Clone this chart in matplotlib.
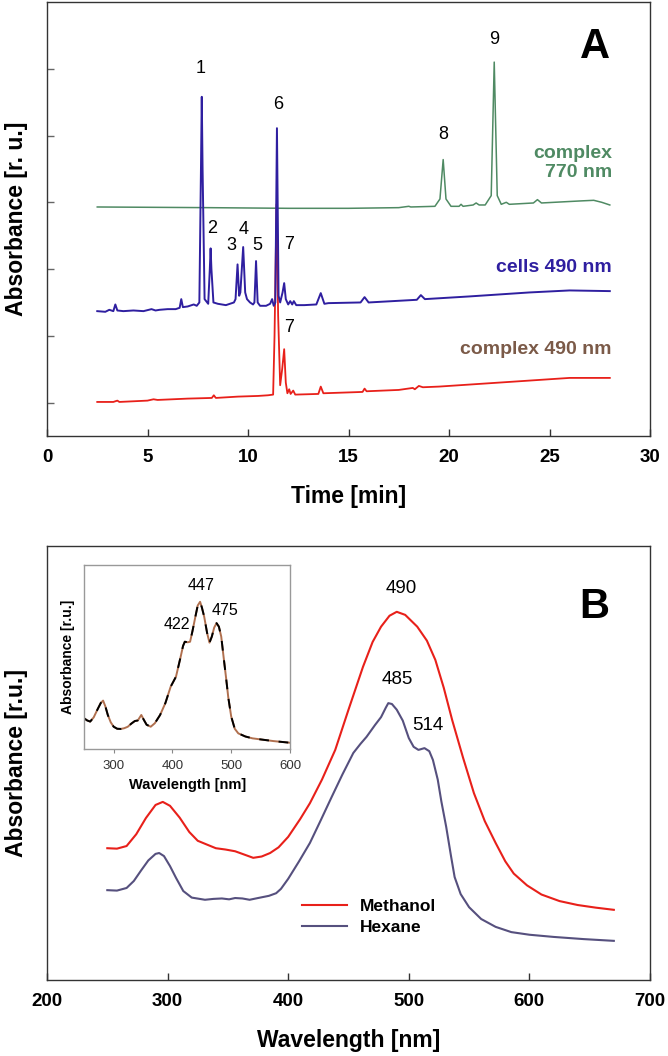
"""
Chromatogram (A) and absorption spectra (B) recreated with matplotlib.
"""
import matplotlib
matplotlib.use('Agg')
import matplotlib.pyplot as plt

plt.rcParams['font.family'] = ['Liberation Sans', 'DejaVu Sans']

# ---------------- panel A: HPLC traces (time [min], absorbance) ----------------
green_t = [2.5, 8.0, 12.0, 15.0, 17.5, 18.0, 18.1, 19.3, 19.55, 19.71, 19.85, 20.1, 20.5, 20.6,
           20.7, 21.2, 21.35, 21.5, 21.8, 22.1, 22.25, 22.4, 22.6, 22.85, 23.0, 24.2, 24.4, 24.6,
           26.5, 27.2, 27.6, 28.0]
green_y = [3.43, 3.42, 3.41, 3.41, 3.42, 3.44, 3.43, 3.44, 3.55, 4.14, 3.55, 3.44, 3.44, 3.47,
           3.44, 3.46, 3.49, 3.46, 3.46, 3.60, 5.60, 3.60, 3.47, 3.50, 3.47, 3.49, 3.54, 3.49,
           3.52, 3.53, 3.50, 3.46]

blue_t = [2.5, 2.9, 3.1, 3.3, 3.4, 3.5, 3.8, 4.3, 4.8, 5.2, 5.4, 5.6, 6.0, 6.4, 6.6, 6.68, 6.76,
          7.0, 7.3, 7.45, 7.58, 7.66, 7.70, 7.74, 7.84, 8.02, 8.10, 8.14, 8.18, 8.28, 8.5, 8.9,
          9.1, 9.3, 9.38, 9.48, 9.56, 9.62, 9.76, 9.86, 9.95, 10.1, 10.25, 10.32, 10.40, 10.48,
          10.6, 10.9, 11.1, 11.2, 11.28, 11.36, 11.44, 11.52, 11.6, 11.72, 11.8, 11.88, 12.0,
          12.1, 12.2, 12.28, 12.4, 12.8, 13.4, 13.62, 13.8, 14.0, 15.6, 15.8, 16.0, 18.4, 18.6,
          18.8, 21.0, 24.0, 26.0, 28.0]
blue_y = [1.87, 1.86, 1.89, 1.87, 1.97, 1.88, 1.87, 1.88, 1.87, 1.90, 1.88, 1.89, 1.90, 1.90,
          1.92, 2.05, 1.93, 1.94, 1.97, 1.95, 2.00, 4.00, 5.08, 4.00, 2.05, 1.98, 2.50, 2.81,
          2.50, 2.00, 1.98, 1.96, 1.98, 2.00, 2.05, 2.57, 2.10, 2.15, 2.83, 2.15, 2.05, 2.00,
          1.97, 2.00, 2.62, 2.00, 1.95, 1.95, 1.98, 2.05, 1.95, 2.00, 4.61, 2.10, 2.00, 2.15,
          2.29, 2.05, 1.97, 2.02, 1.97, 2.02, 1.96, 1.96, 1.97, 2.14, 1.98, 1.99, 2.00, 2.08,
          2.00, 2.04, 2.11, 2.05, 2.09, 2.15, 2.18, 2.17]

red_t = [2.5, 3.3, 3.5, 3.6, 5.0, 5.3, 5.5, 7.0, 8.2, 8.3, 8.4, 9.5, 10.5, 11.0, 11.25, 11.32,
         11.42, 11.5, 11.6, 11.7, 11.8, 11.88, 11.96, 12.05, 12.12, 12.25, 12.35, 13.5, 13.62,
         13.75, 15.7, 15.8, 15.9, 17.5, 18.2, 18.3, 18.5, 18.7, 19.5, 22.0, 26.0, 28.0]
red_y = [0.51, 0.51, 0.53, 0.51, 0.53, 0.55, 0.54, 0.56, 0.57, 0.61, 0.57, 0.59, 0.60, 0.61,
         0.62, 1.50, 3.47, 1.80, 0.76, 1.00, 1.30, 0.80, 0.64, 0.70, 0.63, 0.68, 0.62, 0.63,
         0.74, 0.64, 0.66, 0.71, 0.67, 0.69, 0.72, 0.70, 0.75, 0.73, 0.74, 0.79, 0.87, 0.87]

peak_names = ['1', '2', '3', '4', '5', '6', '7', '7', '8', '9']
peak_t = [7.66, 8.2, 9.17, 9.8, 10.45, 11.49, 12.02, 12.05, 19.7, 22.27]
peak_y = [5.51, 3.11, 2.85, 3.10, 2.85, 4.97, 2.87, 1.62, 4.51, 5.94]

# ---------------- panel B: absorption spectra (wavelength [nm], absorbance) ----------------
meoh_wl = [250, 258, 266, 274, 282, 290, 296, 302, 310, 318, 325, 332, 340, 348, 356, 364,
           371, 378, 385, 392, 400, 410, 418, 428, 439, 450, 462, 470, 477, 484, 490, 497,
           507, 515, 522, 529, 536, 545, 554, 563, 572, 580, 587, 598, 610, 625, 640, 655, 670]
meoh_abs = [0.313, 0.312, 0.318, 0.345, 0.382, 0.412, 0.419, 0.410, 0.383, 0.350, 0.330,
            0.322, 0.313, 0.310, 0.306, 0.298, 0.291, 0.294, 0.302, 0.315, 0.339, 0.380,
            0.416, 0.470, 0.538, 0.630, 0.728, 0.785, 0.820, 0.845, 0.854, 0.847, 0.820,
            0.788, 0.744, 0.680, 0.606, 0.520, 0.439, 0.375, 0.325, 0.283, 0.255, 0.228,
            0.207, 0.192, 0.183, 0.177, 0.172]

hex_wl = [250, 258, 266, 272, 278, 284, 290, 293, 297, 302, 307, 313, 320, 331, 338, 345,
          351, 356, 362, 368, 375, 384, 390, 394, 400, 409, 418, 427, 436, 445, 454, 460,
          465, 472, 477, 481, 483, 486, 490, 495, 500, 504, 508, 513, 517, 520, 524, 527,
          531, 535, 538, 543, 550, 560, 572, 585, 600, 620, 645, 670]
hex_abs = [0.217, 0.216, 0.222, 0.238, 0.262, 0.285, 0.300, 0.302, 0.295, 0.272, 0.245,
           0.215, 0.200, 0.195, 0.197, 0.198, 0.196, 0.199, 0.198, 0.195, 0.199, 0.204,
           0.210, 0.220, 0.243, 0.283, 0.325, 0.377, 0.430, 0.482, 0.531, 0.552, 0.568,
           0.595, 0.613, 0.635, 0.645, 0.643, 0.630, 0.605, 0.565, 0.545, 0.538, 0.542,
           0.535, 0.515, 0.470, 0.420, 0.362, 0.295, 0.247, 0.208, 0.178, 0.151, 0.133,
           0.121, 0.115, 0.110, 0.105, 0.101]

# inset spectrum (two overlapping recordings)
ins_wl = [250, 255, 260, 266, 272, 278, 282, 286, 290, 295, 300, 306, 312, 318, 324, 330,
          336, 341, 347, 351, 356, 363, 370, 379, 388, 397, 406, 414, 418, 421, 426, 430,
          434, 439, 443, 447, 450, 454, 459, 463, 467, 471, 475, 479, 483, 487, 491, 495,
          500, 506, 512, 524, 536, 555, 572, 600]
ins_abs = [0.166, 0.155, 0.149, 0.172, 0.212, 0.250, 0.263, 0.230, 0.185, 0.145, 0.121,
           0.110, 0.109, 0.113, 0.121, 0.138, 0.152, 0.155, 0.185, 0.160, 0.132, 0.121,
           0.140, 0.185, 0.250, 0.339, 0.393, 0.502, 0.560, 0.583, 0.580, 0.583, 0.640,
           0.719, 0.780, 0.800, 0.770, 0.719, 0.630, 0.578, 0.611, 0.660, 0.684, 0.665,
           0.611, 0.500, 0.393, 0.280, 0.176, 0.110, 0.085, 0.068, 0.058, 0.050, 0.043,
           0.034]

GREEN, BLUE, RED = '#4f8a63', '#2f1fa0', '#e8201a'
HEX_C, BROWN_T, INS_BROWN = '#56507e', '#7b5a48', '#b0704f'
SPINE = '#333333'

fig = plt.figure(figsize=(6.68, 10.56), dpi=100)
W, H = 668.0, 1056.0

# ---------- A ----------
axA = fig.add_axes([47 / W, 1 - 436 / H, 603 / W, 434 / H])
axA.plot(green_t, green_y, color=GREEN, lw=1.1)
axA.plot(red_t, red_y, color=RED, lw=1.3)
axA.plot(blue_t, blue_y, color=BLUE, lw=1.4)
axA.set_xlim(0, 30)
axA.set_ylim(0, 6.5)
axA.set_xticks([0, 5, 10, 15, 20, 25, 30])
axA.set_yticks([0.5, 1.5, 2.5, 3.5, 4.5, 5.5])
axA.tick_params(axis='x', direction='in', length=5, width=1, color=SPINE, pad=9,
                labelsize=13.5)
axA.tick_params(axis='y', direction='in', length=5, width=1, color='#666666', labelleft=False)
for lab in axA.get_xticklabels():
    lab.set_fontweight('bold')
for s in axA.spines.values():
    s.set_color(SPINE); s.set_linewidth(1.0)
axA.set_xlabel('Time [min]', fontsize=16.5, fontweight='bold', labelpad=14)
axA.set_ylabel('Absorbance [r. u.]', fontsize=16.5, fontweight='bold', labelpad=14)

for n, t, y in zip(peak_names, peak_t, peak_y):
    axA.text(t, y, n, fontsize=13, ha='center', va='center')
axA.text(28.1, 4.09, 'complex\n770 nm', color=GREEN, fontsize=14, fontweight='bold',
         ha='right', va='center', multialignment='right', linespacing=1.1)
axA.text(28.1, 2.53, 'cells 490 nm', color=BLUE, fontsize=14, fontweight='bold',
         ha='right', va='center')
axA.text(28.1, 1.29, 'complex 490 nm', color=BROWN_T, fontsize=14, fontweight='bold',
         ha='right', va='center')
axA.text(27.24, 5.82, 'A', fontsize=30, fontweight='bold', ha='center', va='center')

# ---------- B ----------
axB = fig.add_axes([47 / W, 1 - 980 / H, 603 / W, 434 / H])
axB.plot(meoh_wl, meoh_abs, color=RED, lw=1.5, label='Methanol')
axB.plot(hex_wl, hex_abs, color=HEX_C, lw=1.5, label='Hexane')
axB.set_xlim(200, 700)
axB.set_ylim(0.0114, 1.0046)
axB.set_xticks([200, 300, 400, 500, 600, 700])
axB.set_yticks([])
axB.tick_params(axis='x', direction='in', length=5, width=1, color=SPINE, pad=9,
                labelsize=13.5)
for lab in axB.get_xticklabels():
    lab.set_fontweight('bold')
for s in axB.spines.values():
    s.set_color(SPINE); s.set_linewidth(1.0)
axB.set_xlabel('Wavelength [nm]', fontsize=16.5, fontweight='bold', labelpad=14)
axB.set_ylabel('Absorbance [r.u.]', fontsize=16.5, fontweight='bold', labelpad=14)

axB.text(493.5, 0.908, '490', fontsize=13.5, ha='center', va='center')
axB.text(490.6, 0.698, '485', fontsize=13.5, ha='center', va='center')
axB.text(516, 0.593, '514', fontsize=13.5, ha='center', va='center')
axB.text(653.6, 0.865, 'B', fontsize=30, fontweight='bold', ha='center', va='center')

leg = axB.legend(loc='upper left', bbox_to_anchor=(0.411, 0.203), frameon=False,
                 prop={'size': 12.5, 'weight': 'bold'}, handlelength=2.6,
                 handletextpad=0.75, labelspacing=0.35, borderaxespad=0)

# ---------- inset ----------
axI = fig.add_axes([84.3 / W, 1 - 749 / H, 205.7 / W, 184 / H])
axI.plot(ins_wl, ins_abs, color=INS_BROWN, lw=1.4)
axI.plot(ins_wl, ins_abs, color='black', lw=1.4, dashes=(5, 5))
axI.set_xlim(250, 600)
axI.set_ylim(0, 1)
axI.set_xticks([300, 400, 500, 600])
axI.set_yticks([])
axI.tick_params(axis='x', direction='out', length=3, width=0.8, color='#888888', pad=5,
                labelsize=9.5, labelcolor='#333333')
for s in axI.spines.values():
    s.set_color('#999999'); s.set_linewidth(1.0)
axI.set_xlabel('Wavelength [nm]', fontsize=10.5, fontweight='bold', labelpad=4)
axI.set_ylabel('Absorbance [r.u.]', fontsize=10, fontweight='bold', labelpad=7)
axI.text(448, 0.891, '447', fontsize=11.5, ha='center', va='center')
axI.text(489, 0.752, '475', fontsize=11.5, ha='center', va='center')
axI.text(407, 0.679, '422', fontsize=11.5, ha='center', va='center')

fig.savefig('out.png', dpi=100)
